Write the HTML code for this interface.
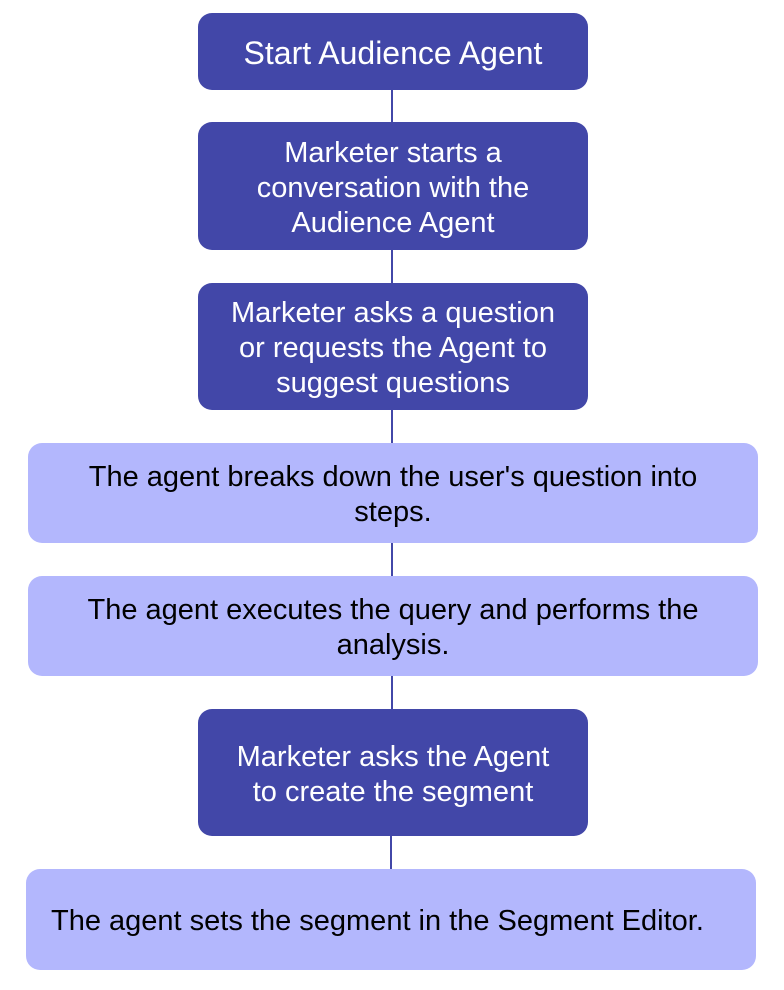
<!DOCTYPE html>
<html><head><style>
html,body{margin:0;padding:0;background:#fff;}
body{width:784px;height:990px;position:relative;overflow:hidden;font-family:"Liberation Sans",sans-serif;}
.b{position:absolute;display:flex;align-items:center;justify-content:center;text-align:center;box-sizing:border-box;border-radius:14px;font-size:29px;line-height:35px;padding-top:4px;}
.d{background:#4247A8;color:#fff;}
.l{background:#B3B7FD;color:#000;}
.ln{position:absolute;width:2px;background:#4247A8;}
</style></head><body>
<div class="ln" style="left:391px;top:90px;height:32px"></div>
<div class="ln" style="left:391px;top:250px;height:33px"></div>
<div class="ln" style="left:391px;top:410px;height:33px"></div>
<div class="ln" style="left:391px;top:543px;height:33px"></div>
<div class="ln" style="left:391px;top:676px;height:33px"></div>
<div class="ln" style="left:390px;top:836px;height:33px"></div>

<div class="b d" style="left:198px;top:13px;width:390px;height:77px;font-size:32px">Start Audience Agent</div>
<div class="b d" style="left:198px;top:122px;width:390px;height:128px">Marketer starts a<br>conversation with the<br>Audience Agent</div>
<div class="b d" style="left:198px;top:283px;width:390px;height:127px">Marketer asks a question<br>or requests the Agent to<br>suggest questions</div>
<div class="b l" style="left:28px;top:443px;width:730px;height:100px">The agent breaks down the user's question into<br>steps.</div>
<div class="b l" style="left:28px;top:576px;width:730px;height:100px">The agent executes the query and performs the<br>analysis.</div>
<div class="b d" style="left:198px;top:709px;width:390px;height:127px">Marketer asks the Agent<br>to create the segment</div>
<div class="b l" style="left:26px;top:869px;width:730px;height:101px;justify-content:flex-start;padding-left:25px">The agent sets the segment in the Segment Editor.</div>
</body></html>
